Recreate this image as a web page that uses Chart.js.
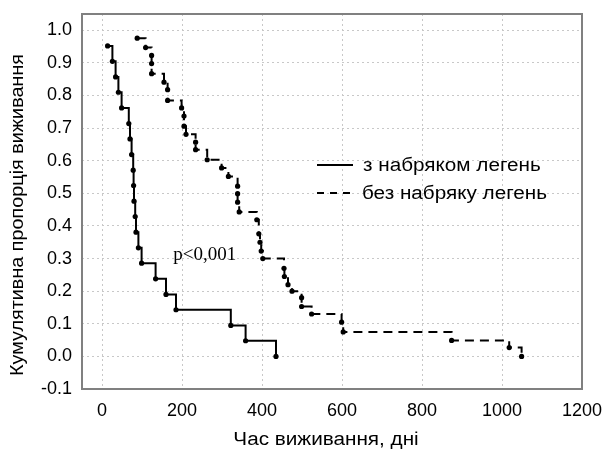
<!DOCTYPE html>
<html>
<head>
<meta charset="utf-8">
<script src="https://cdn.jsdelivr.net/npm/chart.js@4.4.1/dist/chart.umd.min.js"></script>
<style>
    html, body { margin: 0; padding: 0; background: #fff; }
</style>
</head>
<body>
<canvas id="kmChart" width="605" height="450"></canvas>
<script>
// survival times (days) and cumulative proportion surviving
var timeOedema = [14, 26, 34, 41, 49, 67, 70, 74, 78, 79, 80, 83, 85, 91, 99, 134, 160, 185, 322, 359, 435];
var survOedema = [0.952, 0.905, 0.857, 0.810, 0.762, 0.714, 0.667, 0.619, 0.571, 0.524, 0.476, 0.429, 0.381,
                  0.333, 0.286, 0.238, 0.190, 0.143, 0.095, 0.048, 0.0];

var timeNoOedema = [88, 109, 124, 124, 124, 155, 164, 164, 199, 205, 205, 210, 234, 234, 263, 299, 316,
                    339, 339, 339, 343, 387, 392, 395, 398, 402, 455, 456, 465, 475, 499, 499, 524,
                    599, 603, 874, 1018, 1049];
var survNoOedema = [0.976, 0.947, 0.923, 0.898, 0.867, 0.841, 0.818, 0.785, 0.762, 0.737, 0.706, 0.681,
                    0.657, 0.634, 0.603, 0.578, 0.552, 0.522, 0.499, 0.473, 0.443, 0.419, 0.376, 0.350,
                    0.323, 0.300, 0.270, 0.245, 0.220, 0.200, 0.180, 0.153, 0.130, 0.105, 0.075, 0.049,
                    0.027, 0.0];

var seriesNames = ['з набряком легень', 'без набряку легень'];
var xTicks = [0, 200, 400, 600, 800, 1000, 1200];
var yTicks = [-0.1, 0.0, 0.1, 0.2, 0.3, 0.4, 0.5, 0.6, 0.7, 0.8, 0.9, 1.0];
var xTitle = 'Час виживання, дні';
var yTitle = 'Кумулятивна пропорція виживання';
var pNote = 'p<0,001';

var sansFont = "'Liberation Sans', Arial, sans-serif";

function toPoints(xs, ys) {
    return xs.map(function (x, i) { return { x: x, y: ys[i] }; });
}

function keepTicks(list) {
    return function (scale) {
        scale.ticks = list.map(function (v) { return { value: v }; });
    };
}

// the original's Arial is a little wider than ours, so stretch it sideways
function wideText(ctx, text, x, y, sx, angle) {
    ctx.save();
    ctx.translate(x, y);
    if (angle) ctx.rotate(angle);
    ctx.scale(sx, 1);
    ctx.fillText(text, 0, 0);
    ctx.restore();
}

// frame, titles, legend and p-value note
var extrasPlugin = {
    id: 'extras',
    afterDatasetsDraw: function (chart) {
        var ctx = chart.ctx;
        var a = chart.chartArea;
        ctx.save();
        ctx.strokeStyle = '#808080';
        ctx.lineWidth = 2;
        ctx.strokeRect(a.left, a.top, a.right - a.left, a.bottom - a.top);

        ctx.fillStyle = '#000';
        ctx.font = '18px ' + sansFont;
        ctx.textBaseline = 'middle';

        // axis titles
        ctx.textAlign = 'center';
        wideText(ctx, xTitle, a.left + 244, a.bottom + 51, 1.15);
        wideText(ctx, yTitle, 18, a.top + 201, 1.1, -Math.PI / 2);

        // legend
        var lx = a.left + 235, ly = a.top + 151;
        ctx.strokeStyle = '#000';
        ctx.lineWidth = 2;
        ctx.beginPath();
        ctx.moveTo(lx, ly);
        ctx.lineTo(lx + 36, ly);
        ctx.stroke();
        ctx.setLineDash([7, 6]);
        ctx.beginPath();
        ctx.moveTo(lx, ly + 28);
        ctx.lineTo(lx + 36, ly + 28);
        ctx.stroke();
        ctx.setLineDash([]);
        ctx.textAlign = 'left';
        wideText(ctx, seriesNames[0], lx + 46, ly + 1, 1.15);
        wideText(ctx, seriesNames[1], lx + 45, ly + 29, 1.15);

        // p-value
        var xs = chart.scales.x, ys = chart.scales.y;
        ctx.font = "19px 'Liberation Serif', 'Times New Roman', serif";
        ctx.fillText(pNote, xs.getPixelForValue(178), ys.getPixelForValue(0.31));
        ctx.restore();
    }
};

var ctx = document.getElementById('kmChart').getContext('2d');
var kmChart = new Chart(ctx, {
    type: 'line',
    data: {
        datasets: [{
            label: seriesNames[0],
            data: toPoints(timeOedema, survOedema),
            stepped: true,
            borderColor: '#000',
            borderWidth: 2,
            pointRadius: 2.6,
            pointBackgroundColor: '#000',
            pointBorderWidth: 0,
            fill: false
        }, {
            label: seriesNames[1],
            data: toPoints(timeNoOedema, survNoOedema),
            stepped: true,
            borderColor: '#000',
            borderWidth: 2,
            borderDash: [9, 6],
            pointRadius: 2.6,
            pointBackgroundColor: '#000',
            pointBorderWidth: 0,
            fill: false
        }]
    },
    options: {
        responsive: false,
        animation: false,
        layout: {
            padding: { left: 0, top: 14, right: 23, bottom: 0 }
        },
        scales: {
            x: {
                type: 'linear',
                min: -50,
                max: 1200,
                afterBuildTicks: keepTicks(xTicks),
                afterFit: function (scale) {
                    scale.height = 61;
                    scale.paddingLeft = 0;
                    scale.paddingRight = 0;
                },
                grid: { color: '#c8c8c8', lineWidth: 1, drawTicks: false },
                border: { display: false, dash: [2, 3] },
                ticks: {
                    color: '#000',
                    padding: 11,
                    maxRotation: 0,
                    font: { family: sansFont, size: 18 },
                    callback: function (v) { return String(v); }
                }
            },
            y: {
                type: 'linear',
                min: -0.1,
                max: 1.05,
                afterBuildTicks: keepTicks(yTicks),
                afterFit: function (scale) {
                    scale.width = 82;
                    scale.paddingTop = 0;
                    scale.paddingBottom = 0;
                },
                grid: { color: '#c8c8c8', lineWidth: 1, drawTicks: false },
                border: { display: false, dash: [2, 3] },
                ticks: {
                    color: '#000',
                    padding: 10,
                    font: { family: sansFont, size: 18 },
                    callback: function (v) { return Number(v).toFixed(1); }
                }
            }
        },
        plugins: {
            legend: { display: false },
            tooltip: { enabled: false }
        }
    },
    plugins: [extrasPlugin]
});
</script>
</body>
</html>
